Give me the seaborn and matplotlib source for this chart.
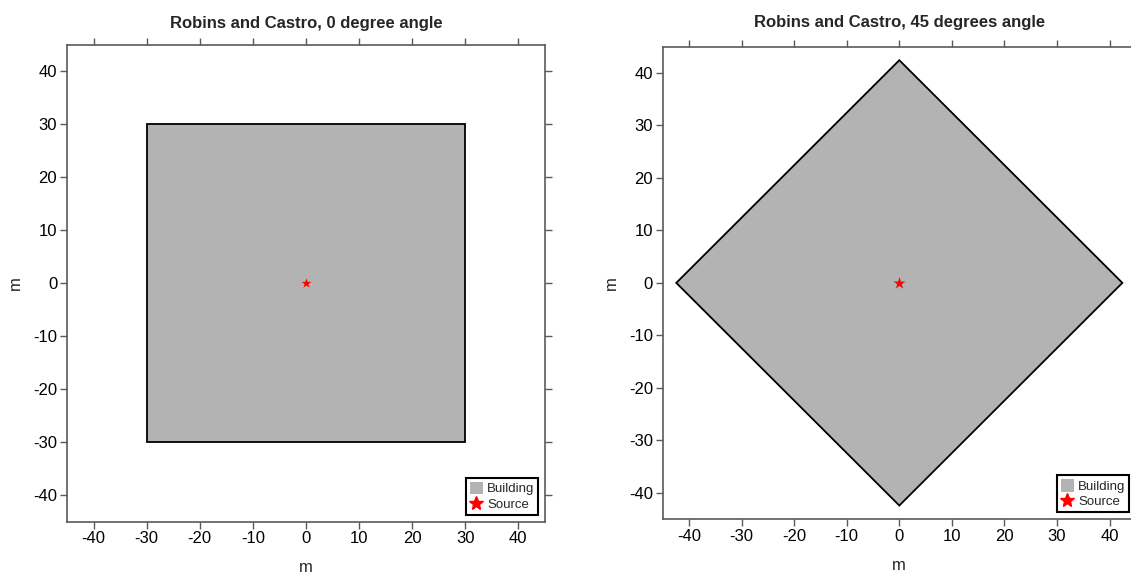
import numpy as np
import pandas as pd
import matplotlib
matplotlib.use("Agg")
import matplotlib.pyplot as plt
from matplotlib.patches import Patch
from matplotlib.lines import Line2D
import seaborn as sns

# ---- data ----
titles = ["Robins and Castro, 0 degree angle", "Robins and Castro, 45 degrees angle"]
bldg0_x = [-30, 30, 30, -30, -30]
bldg0_y = [-30, -30, 30, 30, -30]
bldg45_x = [0, 42.43, 0, -42.43, 0]
bldg45_y = [-42.43, 0, 42.43, 0, -42.43]
source_x = [0]
source_y = [0]
ticks = [-40, -30, -20, -10, 0, 10, 20, 30, 40]

sns.set_theme(style="ticks")
plt.rcParams['font.family'] = ['Liberation Sans', 'DejaVu Sans']
plt.rcParams['axes.unicode_minus'] = False

fig = plt.figure(figsize=(11.31, 5.74), dpi=100)
ax0 = fig.add_axes([0.0592, 0.0911, 0.4226, 0.8305])
ax1 = fig.add_axes([0.586, 0.0958, 0.4183, 0.8228])

spine_col = "#5a5a5a"
panels = [(ax0, bldg0_x, bldg0_y, 7.5, 12), (ax1, bldg45_x, bldg45_y, 9, 14)]
for i, (ax, bx, by, ssize, tpad) in enumerate(panels):
    ax.fill(bx, by, facecolor="#b3b3b3", edgecolor="black", linewidth=1.3, zorder=1)
    src = pd.DataFrame({"x": source_x, "y": source_y})
    sns.scatterplot(data=src, x="x", y="y", marker="*", color="red", s=ssize**2,
                    linewidth=0, ax=ax, zorder=3)
    ax.set_xlim(-45, 45)
    ax.set_ylim(-45, 45)
    ax.set_xticks(ticks)
    ax.set_yticks(ticks)
    ax.set_xlabel("m", fontsize=12, labelpad=10)
    ax.set_ylabel("m", fontsize=12, labelpad=7)
    ax.set_title(titles[i], fontsize=12, fontweight="bold", pad=tpad)
    ax.tick_params(axis="both", which="both", direction="out", length=5, width=1,
                   color=spine_col, labelsize=12, labelcolor="black",
                   top=True, right=True, labeltop=False, labelright=False, pad=2)
    for sp in ax.spines.values():
        sp.set_visible(True)
        sp.set_color(spine_col)
        sp.set_linewidth(1.2)
    handles = [Patch(facecolor="#b3b3b3", edgecolor="none", label="Building"),
               Line2D([], [], marker="*", color="red", linestyle="none",
                      markersize=10, label="Source")]
    leg = ax.legend(handles=handles, loc="lower right", fontsize=9.5,
                    frameon=True, fancybox=False, handlelength=1.0,
                    handleheight=1.1, handletextpad=0.3, borderpad=0.3,
                    labelspacing=0.15, borderaxespad=0.5)
    leg.get_frame().set_edgecolor("black")
    leg.get_frame().set_linewidth(1.5)
    leg.get_frame().set_alpha(1)

fig.savefig("out.png", dpi=100)
